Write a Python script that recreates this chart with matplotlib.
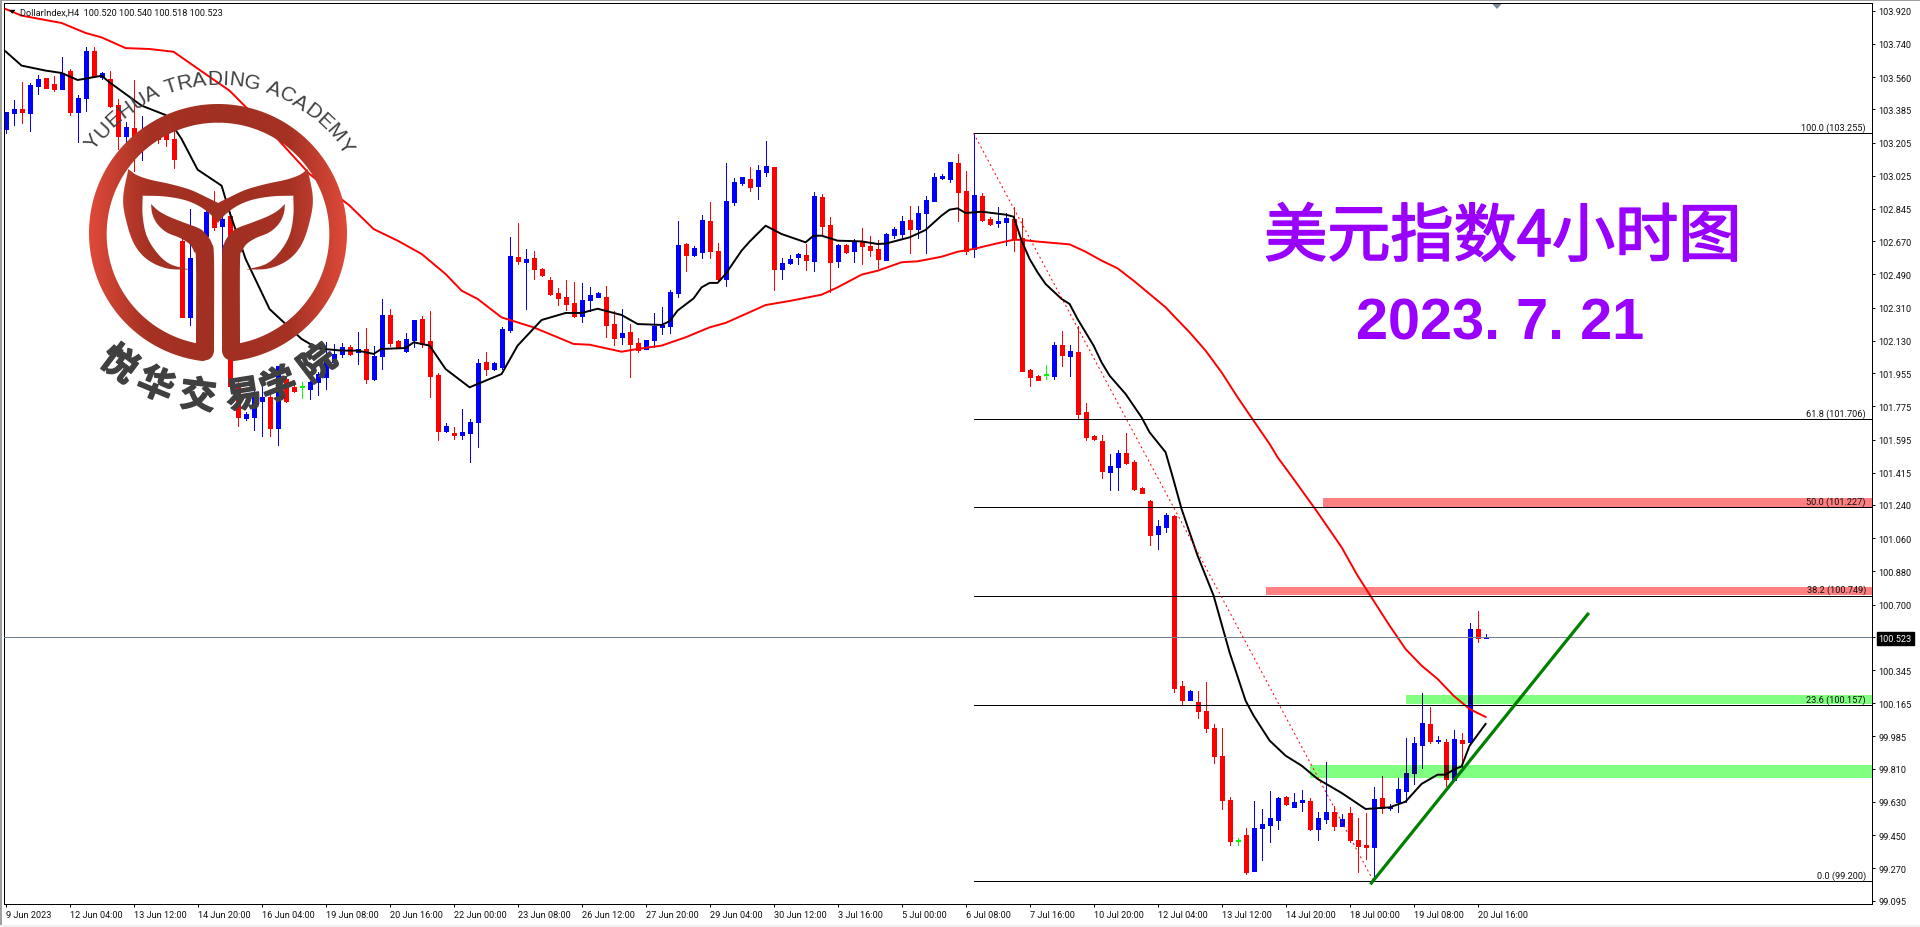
import numpy as np
import matplotlib
matplotlib.use("Agg")
import matplotlib.pyplot as plt
from matplotlib.patches import Polygon, Rectangle, PathPatch
from matplotlib.path import Path
from matplotlib import patheffects as pe

TICK_FONT = ['Roboto', 'Liberation Sans', 'DejaVu Sans']
TICK_SIZE = 6.6
plt.rcParams['font.family'] = ['Noto Sans CJK SC', 'DejaVu Sans']

# ---------- data (prices) ----------
body_top = [103.369,103.387,103.387,103.517,103.549,103.553,103.522,103.582,103.593,103.446,
            103.701,103.701,103.582,103.549,103.408,103.289,103.282,103.269,103.269,103.260,
            103.269,103.224,102.673,102.579,102.718,102.827,102.808,102.790,102.808,101.887,
            101.733,101.851,101.824,101.824,101.995,101.923,101.878,101.878,101.905,101.950,
            102.013,102.059,102.095,102.095,102.086,102.086,102.050,102.270,102.270,102.131,
            102.140,102.243,102.248,102.129,101.946,101.670,101.630,101.634,101.688,102.010,
            102.013,102.010,102.194,102.590,102.583,102.574,102.577,102.519,102.460,102.389,
            102.366,102.335,102.351,102.378,102.389,102.366,102.219,102.171,102.176,102.118,
            102.135,102.212,102.216,102.397,102.650,102.655,102.633,102.785,102.780,102.617,
            102.888,102.991,103.016,103.007,103.056,103.078,103.072,102.552,102.574,102.601,
            102.595,102.915,102.910,102.758,102.650,102.650,102.666,102.666,102.644,102.628,
            102.709,102.736,102.780,102.785,102.823,102.893,103.018,103.024,103.099,103.094,
            102.942,102.921,102.915,102.791,102.780,102.796,102.791,102.688,101.972,101.939,
            101.945,102.107,102.107,102.075,102.069,101.744,101.614,101.587,101.452,101.522,
            101.522,101.473,101.332,101.262,101.126,101.188,101.180,100.259,100.232,100.172,
            100.123,100.031,99.879,99.641,99.417,99.451,99.489,99.511,99.543,99.652,
            99.657,99.630,99.641,99.635,99.543,99.576,99.576,99.538,99.570,99.424,
            99.397,99.646,99.652,99.603,99.700,99.787,99.950,100.058,100.053,99.966,
            99.955,99.972,99.966,100.568,100.568,100.523]

body_bottom = [103.278,103.365,103.369,103.365,103.513,103.502,103.495,103.495,103.369,103.369,
               103.446,103.564,103.558,103.401,103.242,103.239,103.239,103.188,103.242,103.224,
               103.224,103.116,102.261,102.261,102.574,102.700,102.745,102.754,101.887,101.715,
               101.710,101.715,101.805,101.657,101.657,101.805,101.860,101.878,101.869,101.905,
               101.932,102.013,102.059,102.059,102.068,101.923,101.923,102.050,102.118,102.095,
               102.077,102.134,102.113,101.941,101.643,101.641,101.621,101.619,101.630,101.692,
               101.977,101.977,101.990,102.189,102.561,102.559,102.519,102.487,102.384,102.364,
               102.330,102.263,102.266,102.351,102.366,102.216,102.145,102.149,102.113,102.082,
               102.086,102.135,102.205,102.212,102.389,102.595,102.595,102.612,102.617,102.465,
               102.465,102.883,102.986,102.964,102.969,103.045,102.519,102.519,102.552,102.586,
               102.568,102.563,102.754,102.557,102.563,102.612,102.617,102.644,102.622,102.574,
               102.568,102.704,102.709,102.736,102.736,102.823,102.888,103.013,103.007,102.937,
               102.617,102.628,102.785,102.763,102.769,102.774,102.688,101.966,101.934,101.918,
               101.945,101.939,102.053,102.048,101.733,101.609,101.598,101.424,101.419,101.446,
               101.468,101.327,101.305,101.079,101.083,101.123,100.248,100.183,100.183,100.123,
               100.031,99.879,99.641,99.419,99.417,99.251,99.256,99.489,99.505,99.532,
               99.619,99.603,99.630,99.484,99.484,99.538,99.500,99.500,99.424,99.391,
               99.388,99.386,99.597,99.597,99.630,99.690,99.787,99.939,99.961,99.959,
               99.755,99.749,99.950,99.955,100.519,100.520]

high = [103.369,103.434,103.531,103.528,103.571,103.557,103.564,103.667,103.604,103.463,
        103.723,103.723,103.589,103.593,103.441,103.314,103.542,103.351,103.296,103.287,
        103.296,103.269,102.736,102.845,102.736,102.845,102.944,102.827,102.827,101.905,
        101.742,101.869,101.887,101.842,101.995,101.941,101.905,101.909,101.914,101.959,
        102.122,102.113,102.118,102.107,102.176,102.198,102.104,102.357,102.302,102.136,
        102.172,102.243,102.266,102.290,101.955,101.685,101.661,101.760,101.706,102.031,
        102.068,102.013,102.203,102.693,102.769,102.628,102.615,102.525,102.474,102.415,
        102.460,102.447,102.442,102.420,102.396,102.425,102.293,102.302,102.221,102.143,
        102.135,102.281,102.312,102.407,102.781,102.659,102.646,102.812,102.883,102.660,
        103.094,103.011,103.020,103.071,103.083,103.213,103.072,102.577,102.595,102.606,
        102.655,102.937,102.926,102.801,102.655,102.655,102.682,102.742,102.698,102.677,
        102.715,102.747,102.807,102.861,102.861,102.915,103.040,103.034,103.099,103.143,
        103.051,103.255,102.931,102.801,102.856,102.823,102.856,102.796,101.977,101.945,
        101.999,102.124,102.183,102.107,102.212,101.793,101.620,101.620,101.517,101.538,
        101.630,101.484,101.338,101.269,101.159,101.197,101.186,100.286,100.237,100.232,
        100.281,100.053,100.031,99.657,99.433,99.489,99.635,99.592,99.690,99.657,
        99.663,99.679,99.695,99.652,99.576,99.847,99.608,99.565,99.603,99.543,
        99.570,99.711,99.771,99.619,99.760,99.977,99.982,100.221,100.145,99.988,
        99.972,100.020,100.004,100.600,100.665,100.540]

low = [103.257,103.300,103.311,103.267,103.468,103.499,103.486,103.495,103.354,103.210,
       103.376,103.558,103.549,103.396,103.170,103.195,103.052,103.112,103.215,103.202,
       103.188,103.067,102.261,102.216,102.556,102.682,102.733,102.586,101.878,101.670,
       101.703,101.647,101.616,101.616,101.565,101.797,101.851,101.820,101.815,101.836,
       101.869,101.995,102.040,102.055,102.004,101.901,101.919,101.977,102.104,102.089,
       102.071,102.095,102.095,101.827,101.594,101.634,101.598,101.598,101.471,101.556,
       101.946,101.974,101.977,102.180,102.546,102.302,102.465,102.483,102.378,102.324,
       102.297,102.257,102.234,102.293,102.366,102.149,102.107,102.113,101.936,102.068,
       102.086,102.095,102.167,102.171,102.368,102.509,102.588,102.581,102.579,102.456,
       102.429,102.866,102.975,102.942,102.899,103.024,102.406,102.465,102.547,102.547,
       102.514,102.509,102.709,102.393,102.532,102.606,102.557,102.547,102.590,102.525,
       102.568,102.687,102.682,102.606,102.687,102.606,102.888,103.007,102.991,102.780,
       102.601,102.584,102.780,102.758,102.747,102.650,102.617,101.966,101.885,101.918,
       101.923,101.923,101.994,101.939,101.712,101.592,101.592,101.386,101.321,101.321,
       101.462,101.321,101.305,101.023,101.002,101.095,100.225,100.156,100.183,100.085,
       100.009,99.841,99.592,99.397,99.397,99.240,99.256,99.316,99.413,99.484,
       99.614,99.603,99.581,99.478,99.424,99.516,99.478,99.500,99.413,99.251,
       99.321,99.205,99.570,99.587,99.576,99.630,99.728,99.814,99.950,99.950,
       99.717,99.744,99.809,99.955,100.497,100.518]

candle_dir = ("uuduudduDu".lower() + "ududduduDD".lower() + "ddduuududd" + "uuududdnuu" +
              "uuududuudd" + "uuddduduuu" + "duuududddd" + "dduuudduDD".lower() +
              "uuuuuduudd" + "uuuduuduuu" + "duddududdd" + "uuuduuuuud" + "duddUUdddd".lower() +
              "nududdddUU".lower() + "dddduuddud" + "ddddnduuuu" + "duuduuduDD".lower() +
              "duduuuuudu" + "dududu")

black_ma_bar = [0,2,5,7,9,12,13,17,20,22,24,27,28,30,33,35,37,39,42,44,46,47,50,51,53,55,58,62,64,67,70,72,74,77,79,
                82,83,84,86,87,88,89,90,92,93,95,97,100,101,102,104,107,109,110,113,115,117,118,119,120,122,125,126,
                127,128,129,130,132,133,134,136,137,138,140,142,143,145,
                146,147,149,151,153,155,156,158,160,162,164,167,170,173,175,177,179,180,181,182,183,185]
black_ma_val = [103.699,103.622,103.595,103.582,103.544,103.567,103.531,103.405,103.354,103.224,103.058,102.971,102.827,
                102.574,102.302,102.221,102.140,102.089,102.077,102.077,102.059,102.086,102.091,102.122,102.104,101.977,
                101.878,101.950,102.104,102.243,102.281,102.281,102.304,102.270,102.221,
                102.216,102.236,102.294,102.360,102.420,102.444,102.444,102.492,102.619,102.668,102.754,102.709,102.664,
                102.700,102.700,102.673,102.669,102.655,102.657,102.691,102.731,102.809,102.841,102.848,102.823,102.830,
                102.814,102.803,102.673,102.574,102.501,102.438,102.357,102.330,102.248,102.104,102.013,101.941,101.842,
                101.715,101.634,101.526,
                101.375,101.218,100.965,100.749,100.441,100.179,100.098,99.963,99.881,99.827,99.755,99.679,99.592,99.601,
                99.632,99.728,99.778,99.778,99.805,99.823,99.935,100.053]

red_ma_bar = [0,2,7,10,12,15,18,21,25,28,34,38,43,46,49,52,55,57,59,62,66,71,73,77,79,
              82,85,88,90,93,95,98,102,104,107,109,112,114,117,119,121,124,126,127,129,133,135,137,139,141,143,145,
              146,148,150,152,154,156,158,159,161,164,167,169,171,173,175,177,179,181,183,185]
red_ma_val = [103.929,103.893,103.853,103.799,103.775,103.717,103.712,103.697,103.576,103.486,103.224,103.034,102.863,
              102.736,102.673,102.601,102.492,102.402,102.357,102.257,102.203,102.113,102.109,102.071,102.086,
              102.104,102.149,102.203,102.227,102.285,102.324,102.346,102.380,102.420,102.489,102.510,102.556,102.561,
              102.586,102.613,102.628,102.659,102.678,102.677,102.668,102.653,102.613,102.565,102.523,102.456,102.384,
              102.312,102.266,102.176,102.077,101.959,101.824,101.697,101.571,101.499,101.381,101.200,101.011,100.857,
              100.721,100.586,100.459,100.369,100.297,100.206,100.134,100.091]

fib_percent = ["100.0", "61.8", "50.0", "38.2", "23.6", "0.0"]
fib_price = [103.255, 101.706, 101.227, 100.749, 100.157, 99.200]
fib_start_bar = 121
fib_trend_bars = [121, 171]
fib_trend_prices = [103.255, 99.200]

red_zones = [(164.7, 101.227, 101.278), (157.6, 100.750, 100.796)]
green_zones = [(175.0, 100.159, 100.210), (163.0, 99.762, 99.831)]

support_bars = [170.6, 197.9]
support_prices = [99.184, 100.655]

current_price = 100.523

y_tick_values = [103.920,103.740,103.560,103.385,103.205,103.025,102.845,102.670,102.490,102.310,102.130,
                 101.955,101.775,101.595,101.415,101.240,101.060,100.880,100.700,100.523,100.345,100.165,
                 99.985,99.810,99.630,99.450,99.270,99.095]
x_tick_labels = ["9 Jun 2023","12 Jun 04:00","13 Jun 12:00","14 Jun 20:00","16 Jun 04:00","19 Jun 08:00",
                 "20 Jun 16:00","22 Jun 00:00","23 Jun 08:00","26 Jun 12:00","27 Jun 20:00","29 Jun 04:00",
                 "30 Jun 12:00","3 Jul 16:00","5 Jul 00:00","6 Jul 08:00","7 Jul 16:00","10 Jul 20:00",
                 "12 Jul 04:00","13 Jul 12:00","14 Jul 20:00","18 Jul 00:00","19 Jul 08:00","20 Jul 16:00"]

assert len(body_top) == len(body_bottom) == len(high) == len(low) == 186
assert len(candle_dir) == 186, len(candle_dir)
assert len(black_ma_bar) == len(black_ma_val)
assert len(red_ma_bar) == len(red_ma_val)

# ---------- layout ----------
W, H = 1920, 928
fig = plt.figure(figsize=(W / 100, H / 100), dpi=100, facecolor='white')
L, R, T, B = 3.8, 1872.3, 4.3, 905.0
ax = fig.add_axes([L / W, (H - B) / H, (R - L) / W, (B - T) / H])
ax.set_xlim(-0.225, 233.34)
ax.set_ylim(99.0769, 103.9598)
x_right = 233.34

PT = 0.72  # one pixel in points
bars = np.arange(len(body_top))
top = np.array(body_top)
bot = np.array(body_bottom)
hi = np.array(high)
lo = np.array(low)
min_body = 1.1 / 184.46
draw_top = np.maximum(top, bot + min_body)
palette = {'u': '#0000FF', 'd': '#FF0000', 'n': '#00FF00'}
dark_palette = {'u': '#000080', 'd': '#800000', 'n': '#00FF00'}


def draw_candles(colors, z, clip=None):
    wick = ax.vlines(bars, lo, hi, colors=colors, linewidth=PT, antialiased=False, zorder=z)
    body = ax.vlines(bars, bot, draw_top, colors=colors, linewidth=5 * PT, antialiased=False,
                     capstyle='butt', zorder=z)
    if clip is not None:
        wick.set_clip_path(clip)
        body.set_clip_path(clip)


for start, y0, y1 in red_zones:
    ax.add_patch(Rectangle((start, y0), x_right - start, y1 - y0, facecolor='#FF8080', edgecolor='none', zorder=1))
for start, y0, y1 in green_zones:
    ax.add_patch(Rectangle((start, y0), x_right - start, y1 - y0, facecolor='#80FF80', edgecolor='none', zorder=1))

draw_candles([palette[c] for c in candle_dir], 2)
for start, y0, y1 in green_zones:
    draw_candles([dark_palette[c] for c in candle_dir], 2.5,
                 Rectangle((start, y0), x_right - start, y1 - y0, transform=ax.transData))

ax.plot(red_ma_bar, red_ma_val, color='#FF0000', lw=1.4, zorder=3, solid_joinstyle='round')
ax.plot(black_ma_bar, black_ma_val, color='#000000', lw=1.4, zorder=3.2, solid_joinstyle='round')

ax.axhline(current_price, color='#708090', lw=PT, antialiased=False, zorder=3.4)

ax.hlines(fib_price, fib_start_bar, x_right, colors='black', linewidth=PT, antialiased=False, zorder=3.5)
ax.plot(fib_trend_bars, fib_trend_prices, color='#FF0000', lw=PT, ls=(0, (2, 3)), zorder=3.5)
for pct, price in zip(fib_percent, fib_price):
    ax.text(232.55, price + 0.006, f"{pct} ({price:.3f})", ha='right', va='bottom', fontsize=TICK_SIZE,
            family=TICK_FONT, color='#101010', zorder=3.6)

ax.plot(support_bars, support_prices, color='#008000', lw=2.3, zorder=3.6, solid_capstyle='butt')

# axes furniture
for s in ax.spines.values():
    s.set_linewidth(PT)
ax.yaxis.tick_right()
ax.set_yticks(y_tick_values)
ax.set_yticklabels([f"{v:.3f}" for v in y_tick_values], fontfamily=TICK_FONT, fontsize=TICK_SIZE, color='#101010')
ax.set_xticks(np.arange(len(x_tick_labels)) * 8)
ax.set_xticklabels(x_tick_labels, fontfamily=TICK_FONT, fontsize=TICK_SIZE, ha='left', color='#101010')
ax.tick_params(axis='y', direction='out', length=2, width=PT, pad=2.6)
ax.tick_params(axis='x', direction='out', length=2, width=PT, pad=2.6)
cur_tick = ax.yaxis.get_major_ticks()[y_tick_values.index(current_price)]
cur_tick.label2.set_color('white')
cur_tick.label2.set_bbox(dict(facecolor='black', edgecolor='black', pad=1.3))

ax.text(0.0085, 0.9905, "DollarIndex,H4  100.520 100.540 100.518 100.523", transform=ax.transAxes,
        fontsize=TICK_SIZE, family=TICK_FONT, va='center', ha='left', color='#101010', zorder=5)

# ---------- overlay in pixel space: logo, watermark, titles ----------
ov = fig.add_axes([0, 0, 1, 1])
ov.patch.set_visible(False)
ov.axis('off')

ov.add_patch(Rectangle((0, 0), W, 2.0, facecolor='#A0A0A0', edgecolor='none'))
ov.add_patch(Rectangle((0, 0), 1.5, H, facecolor='#A0A0A0', edgecolor='none'))
ov.add_patch(Rectangle((0, 925.5), W, 3, facecolor='#F0F0F0', edgecolor='none'))
ov.add_patch(Polygon([(1492.5, 5), (1501.5, 5), (1497, 10)], facecolor='#778899', edgecolor='none'))
ov.add_patch(Polygon([(9, 10.8), (15.5, 10.8), (12.2, 14.8)], facecolor='black', edgecolor='none'))


def catmull(pts, n=10):
    p = np.array(pts, float)
    p = np.vstack([2 * p[0] - p[1], p, 2 * p[-1] - p[-2]])
    out = []
    for i in range(1, len(p) - 2):
        for t in np.linspace(0, 1, n, endpoint=False):
            a, b, c, d = p[i - 1], p[i], p[i + 1], p[i + 2]
            out.append(0.5 * ((2 * b) + (c - a) * t + (2 * a - 5 * b + 4 * c - d) * t ** 2
                              + (3 * b - a - 3 * c + d) * t ** 3))
    out.append(p[-2])
    return np.array(out)


th_out = np.radians(np.linspace(-0.3, 173.5, 160))
th_in = np.radians(np.linspace(168.6, -0.3, 160))
ring_left = np.vstack([
    np.c_[444 - 387 * np.sin(th_out), 522 - 387 * np.cos(th_out)],
    catmull([(400, 906), (420, 899), (431, 882), (432, 850)]),
    np.array([(378, 852)]),
    np.c_[444 - 334 * np.sin(th_in), 525 - 334 * np.cos(th_in)],
])
stem_left = np.vstack([
    catmull([(432, 855), (432, 600), (425, 552), (405, 522), (385, 507), (340, 490), (295, 472), (265, 455), (243, 435)]),
    catmull([(243, 435), (247, 465), (262, 495), (290, 520), (330, 537), (358, 555), (372, 578), (378, 610), (378, 855)]),
])
leaf_left = np.vstack([
    catmull([(175, 330), (200, 348), (240, 362), (300, 375), (360, 392), (410, 415), (444.5, 432)]),
    catmull([(444.5, 492), (420, 465), (385, 440), (340, 422), (280, 412), (218, 410)]),
    catmull([(218, 410), (218, 470), (230, 530), (260, 580), (300, 615), (360, 632)]),
    catmull([(360, 632), (290, 628), (230, 600), (190, 550), (165, 470), (160, 410), (175, 330)]),
])

grad_x = np.linspace(-1, 1, 400)
stops = np.array([[160, 48, 34], [166, 50, 36], [224, 74, 58]]) / 255
grad = np.stack([np.interp(np.abs(grad_x), [0, 0.55, 1], stops[:, k]) for k in range(3)], axis=1)[None, :, :]
for shape in (ring_left, stem_left, leaf_left):
    for mirror in (False, True):
        pts = shape.copy()
        if mirror:
            pts[:, 0] = 888 - pts[:, 0]
        pts = np.c_[70 + pts[:, 0] / 3, 60 + pts[:, 1] / 3]
        im = ov.imshow(grad, extent=[88.5, 347.5, 365, 104], aspect='auto', zorder=4, interpolation='bilinear')
        patch = PathPatch(Path(np.vstack([pts, pts[0]]), closed=True), transform=ov.transData,
                          facecolor='none', edgecolor='none')
        ov.add_patch(patch)
        im.set_clip_path(patch)

ov.set_xlim(0, W)
ov.set_ylim(H, 0)

# arc lettering
cx, cy = 218.0, 234.0
word = "YUEHUA TRADING ACADEMY"
advances = [.667, .722, .667, .722, .722, .667, .278, .611, .722, .667, .722, .278, .722, .778, .278, .667, .722,
            .667, .722, .667, .833, .667]
em = 21.0
r_base = 149.0
total = sum(advances) * em
pos = -total / 2
for ch, adv in zip(word, advances):
    mid = pos + adv * em / 2
    pos += adv * em
    th = mid / r_base + np.radians(1.0)
    ov.text(cx + r_base * np.sin(th), cy - r_base * np.cos(th), ch, rotation=-np.degrees(th), rotation_mode='anchor',
            ha='center', va='baseline', fontsize=15.1, family='Liberation Sans', color='#404040', zorder=5)

school = "悦华交易学院"
school_angles = [-37.0, -22.3, -7.0, 9.0, 21.7, 37.4]
for ch, ang in zip(school, school_angles):
    th = np.radians(ang)
    t = ov.text(cx + 165 * np.sin(th), cy + 165 * np.cos(th), ch, rotation=ang, rotation_mode='anchor', ha='center',
                va='center', fontsize=26, fontweight='bold', family=['Noto Sans CJK SC', 'DejaVu Sans'],
                color='#404040', zorder=5)
    t.set_path_effects([pe.withStroke(linewidth=1.0, foreground='#404040')])

t = ov.text(1503, 239, "美元指数4小时图", fontsize=45.5, color='#9900FF', ha='center', va='center',
            family=['Noto Sans CJK SC', 'DejaVu Sans'], zorder=5)
t.set_path_effects([pe.withStroke(linewidth=1.2, foreground='#9900FF')])
ov.text(1500, 325, "2023. 7. 21", fontsize=41.5, fontweight='bold', color='#9900FF', ha='center', va='center',
        family='Liberation Sans', zorder=5)

fig.savefig('out.png', dpi=100)
